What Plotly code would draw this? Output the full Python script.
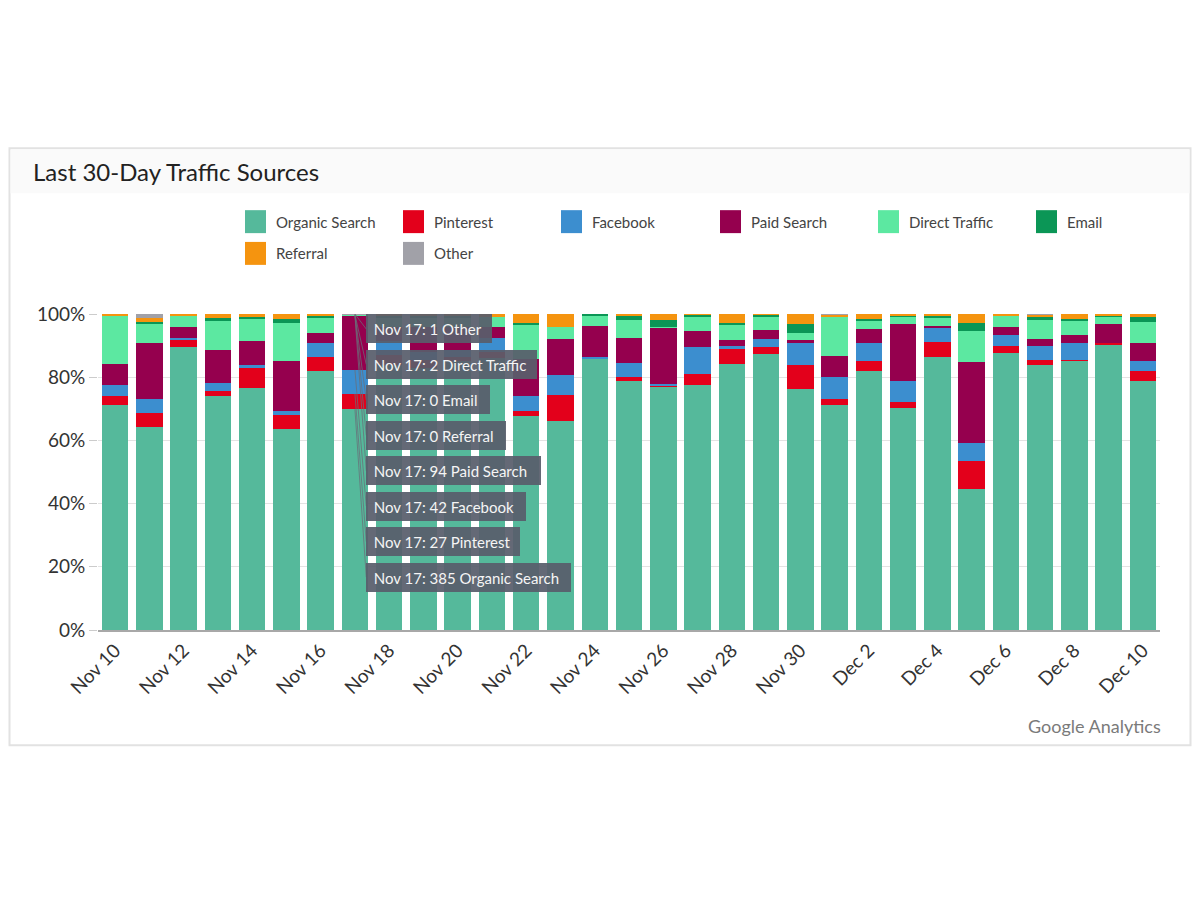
import plotly.graph_objects as go

# ---------------- data ----------------
days = ["Nov 10", "Nov 11", "Nov 12", "Nov 13", "Nov 14", "Nov 15", "Nov 16", "Nov 17",
        "Nov 18", "Nov 19", "Nov 20", "Nov 21", "Nov 22", "Nov 23", "Nov 24", "Nov 25",
        "Nov 26", "Nov 27", "Nov 28", "Nov 29", "Nov 30", "Dec 1", "Dec 2", "Dec 3",
        "Dec 4", "Dec 5", "Dec 6", "Dec 7", "Dec 8", "Dec 9", "Dec 10"]

series_names = ["Organic Search", "Pinterest", "Facebook", "Paid Search",
                "Direct Traffic", "Email", "Referral", "Other"]

organic = [71.1, 64.4, 89.6, 73.9, 76.6, 63.6, 82.0, 69.9, 84.0, 83.0, 85.0, 86.0, 67.6, 66.0, 85.9, 78.8,
           77.0, 77.5, 84.3, 87.4, 76.2, 71.1, 82.0, 70.3, 86.4, 44.7, 87.8, 83.8, 85.2, 90.2, 78.8]
pinterest = [3.1, 4.4, 2.2, 1.7, 6.6, 4.4, 4.3, 4.9, 3.0, 2.5, 1.5, 2.0, 1.8, 8.4, 0.0, 1.3,
             0.5, 3.4, 4.7, 2.1, 7.6, 2.1, 3.0, 1.7, 4.8, 8.9, 2.2, 1.7, 0.3, 0.6, 3.1]
facebook = [3.3, 4.2, 0.5, 2.7, 0.6, 1.4, 4.6, 7.6, 4.5, 2.5, 2.0, 4.3, 4.5, 6.3, 0.6, 4.5,
            0.5, 8.7, 1.0, 2.7, 7.1, 6.9, 5.8, 6.7, 4.6, 5.7, 3.3, 4.5, 5.3, 0.0, 3.1]
paid_search = [6.6, 17.9, 3.5, 10.3, 7.6, 15.6, 3.2, 17.1, 4.5, 8.0, 7.5, 3.7, 11.8, 11.3, 9.8, 7.7,
               17.6, 4.9, 1.8, 2.8, 0.9, 6.7, 4.6, 18.1, 0.3, 25.4, 2.6, 2.2, 2.5, 6.0, 5.9]
direct = [15.5, 5.9, 3.7, 9.3, 7.2, 12.3, 4.8, 0.4, 3.0, 3.0, 3.0, 3.1, 11.1, 4.0, 3.1, 5.9,
          0.4, 4.8, 5.0, 4.1, 2.3, 12.3, 2.3, 2.3, 2.6, 9.8, 3.7, 6.0, 4.6, 2.3, 6.5]
email = [0.0, 0.8, 0.0, 0.8, 0.3, 1.2, 0.6, 0.0, 0.5, 0.5, 0.5, 0.0, 0.4, 0.0, 0.6, 1.4,
         2.2, 0.4, 0.4, 0.6, 2.7, 0.0, 0.8, 0.4, 0.9, 2.8, 0.0, 0.9, 0.6, 0.5, 1.6]
referral = [0.4, 1.2, 0.5, 1.3, 1.1, 1.5, 0.5, 0.0, 0.5, 0.5, 0.5, 0.9, 2.8, 4.0, 0.0, 0.4,
            1.8, 0.3, 2.8, 0.3, 3.2, 0.6, 1.5, 0.5, 0.4, 2.7, 0.4, 0.6, 1.5, 0.4, 1.0]
other = [0.0, 1.2, 0.0, 0.0, 0.0, 0.0, 0.0, 0.2, 0.0, 0.0, 0.0, 0.0, 0.0, 0.0, 0.0, 0.0,
         0.0, 0.0, 0.0, 0.0, 0.0, 0.3, 0.0, 0.0, 0.0, 0.0, 0.0, 0.3, 0.0, 0.0, 0.0]

# tooltip shown for Nov 17 (visit counts), listed top to bottom
tooltip_day = "Nov 17"
tooltip_series = ["Other", "Direct Traffic", "Email", "Referral",
                  "Paid Search", "Facebook", "Pinterest", "Organic Search"]
tooltip_counts = [1, 2, 0, 0, 94, 42, 27, 385]

y_ticks = [0, 20, 40, 60, 80, 100]
y_tick_text = ["0%", "20%", "40%", "60%", "80%", "100%"]

# ---------------- styles ----------------
colors = ["#55b99b", "#e3001b", "#3c8ecf", "#95004e", "#5ce8a1", "#0b9656", "#f5940f", "#a1a1a8"]
FONT = "Lato"
OFF = 8                      # page body margin
W, H = 1184, 884
L, T = 98 - OFF, 314 - OFF   # plot area in page px: x 98..1160, y 314..630.5
R = W - (1160 - OFF)
B = H - (630.5 - OFF)
PW, PH = W - L - R, H - T - B


def px2x(px):
    """page pixel x -> paper x"""
    return (px - OFF - L) / PW


def py2y(py):
    """page pixel y -> paper y"""
    return (H - B - (py - OFF)) / PH


values = [organic, pinterest, facebook, paid_search, direct, email, referral, other]

fig = go.Figure()
for name, vals, col in zip(series_names, values, colors):
    fig.add_trace(go.Bar(
        x=days, y=vals, name=name, showlegend=False,
        marker=dict(color=col, line=dict(width=0)),
    ))

shapes = []
annotations = []

# card
shapes.append(dict(type="rect", xref="paper", yref="paper", layer="below",
                   x0=px2x(9.5), x1=px2x(1190.5), y0=py2y(746), y1=py2y(148),
                   line=dict(color="#e2e2e2", width=2), fillcolor="white"))
shapes.append(dict(type="rect", xref="paper", yref="paper", layer="below",
                   x0=px2x(10.5), x1=px2x(1189.5), y0=py2y(193), y1=py2y(149.5),
                   line=dict(width=0), fillcolor="#fafafa"))

# title and credit
annotations.append(dict(text="Last 30-Day Traffic Sources", xref="paper", yref="paper",
                        x=px2x(31), y=py2y(171), xanchor="left", yanchor="middle",
                        showarrow=False, font=dict(family=FONT, size=24, color="#222222")))
annotations.append(dict(text="Google Analytics", xref="paper", yref="paper",
                        x=px2x(1163), y=py2y(726.5), xanchor="right", yanchor="middle",
                        showarrow=False, font=dict(family=FONT, size=18, color="#7a7a7a")))

# legend (custom, to match swatch size and row spacing)
leg_x = [245, 403, 561, 720, 878, 1036, 245, 403]
leg_y = [221.5, 221.5, 221.5, 221.5, 221.5, 221.5, 253.3, 253.3]
for name, col, lx, ly in zip(series_names, colors, leg_x, leg_y):
    shapes.append(dict(type="rect", xref="paper", yref="paper",
                       x0=px2x(lx), x1=px2x(lx + 21), y0=py2y(ly + 11.5), y1=py2y(ly - 11.5),
                       line=dict(width=0), fillcolor=col))
    annotations.append(dict(text=name, xref="paper", yref="paper",
                            x=px2x(lx + 29), y=py2y(ly), xanchor="left", yanchor="middle",
                            showarrow=False, font=dict(family=FONT, size=15, color="#444444")))

# tooltip for Nov 17
di = days.index(tooltip_day)
day_vals = [v[di] for v in values]
total = sum(day_vals)
cum_top = {}
acc = 0.0
for name, v in zip(series_names, day_vals):
    acc += v
    cum_top[name] = acc / total * 100

box_widths = [126, 171, 124, 140, 175, 160, 154, 205]
box_left_offset = 0.33
for k, (sname, cnt, bw) in enumerate(zip(tooltip_series, tooltip_counts, box_widths)):
    cy = 329 + 35.5 * k                    # page px
    yb = py2y(cy) * 100                    # data units (range 0..100)
    shapes.append(dict(type="line", xref="x", yref="y", layer="above",
                       x0=di, y0=cum_top[sname], x1=di + box_left_offset, y1=yb,
                       line=dict(color="rgba(105,110,120,0.75)", width=1)))
    annotations.append(dict(text="\u00a0" + f"{tooltip_day}: {cnt} {sname}",
                            xref="x", yref="y", x=di + box_left_offset, y=yb,
                            xanchor="left", yanchor="middle", align="left",
                            width=bw - 8, height=21, borderpad=4, borderwidth=0,
                            bgcolor="rgba(88,94,108,0.93)", showarrow=False,
                            font=dict(family=FONT, size=15, color="#f5f5f5")))

fig.update_layout(
    width=W, height=H,
    margin=dict(l=L, r=R, t=T, b=B, pad=0),
    paper_bgcolor="white", plot_bgcolor="rgba(0,0,0,0)",
    barmode="stack", barnorm="percent", bargap=0.227,
    showlegend=False,
    shapes=shapes, annotations=annotations,
    font=dict(family=FONT, color="#333333"),
    xaxis=dict(type="category", range=[-0.5, len(days) - 0.5],
               tickmode="array", tickvals=days[::2], ticktext=days[::2],
               tickangle=-45, tickfont=dict(family=FONT, size=19, color="#333333"),
               showline=True, linecolor="#a8a8a8", linewidth=2, ticks="",
               showgrid=False, zeroline=False),
    yaxis=dict(range=[0, 100], tickmode="array", tickvals=y_ticks, ticktext=y_tick_text,
               tickfont=dict(family=FONT, size=19, color="#333333"),
               showgrid=True, gridcolor="#e3e3e3", gridwidth=1,
               ticks="outside", ticklen=8, tickcolor="#cccccc",
               zeroline=False, showline=False),
)

fig.write_html("out.html")
